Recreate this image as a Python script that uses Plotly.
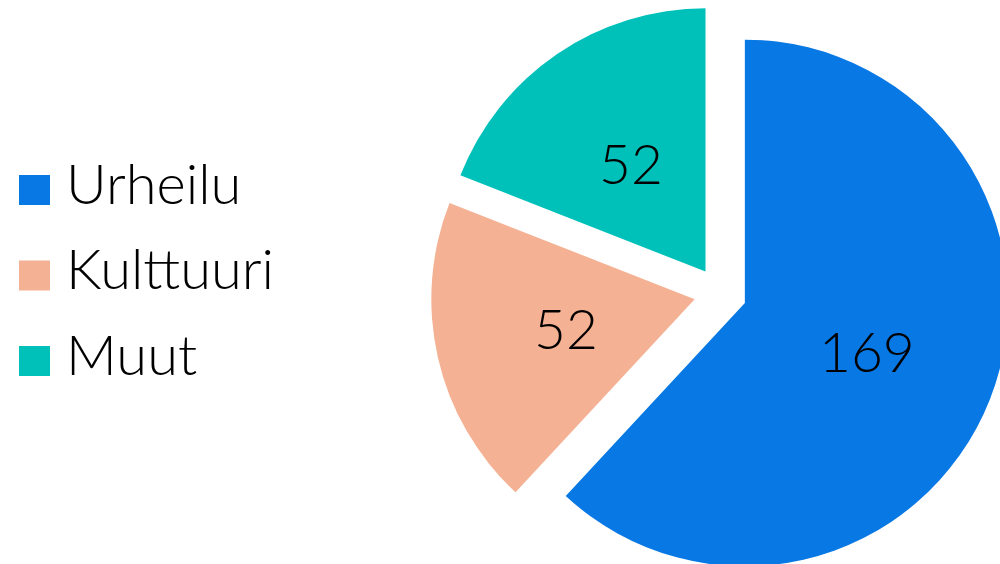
import math
import plotly.graph_objects as go

categories = ["Urheilu", "Kulttuuri", "Muut"]
values = [169, 52, 52]
colors = ["#0878E4", "#F5B193", "#00C1BA"]

FONT = "Lato"
W, H = 1010, 583
PULL = 0.1
DOM_X = [0.4264, 1.0]
DOM_Y = [0.0, 0.9937]

fig = go.Figure()
fig.add_trace(go.Pie(
    labels=categories,
    values=values,
    sort=False,
    direction="clockwise",
    rotation=0,
    pull=[PULL] * len(values),
    marker=dict(colors=colors, line=dict(width=0)),
    textinfo="none",
    domain=dict(x=DOM_X, y=DOM_Y),
    showlegend=False,
    hoverinfo="label+value",
))

# Value labels placed at mid-radius along each slice bisector (as in the reference)
rx = W * (DOM_X[1] - DOM_X[0]) / 2
ry = H * (DOM_Y[1] - DOM_Y[0]) / 2
R = min(rx, ry) / (1 + PULL)
cx = W * (DOM_X[0] + DOM_X[1]) / 2
cy = H * (1 - DOM_Y[0]) - ry
total = sum(values)
start = 0.0
for v in values:
    frac = v / total
    mid = (start + frac / 2) * 2 * math.pi
    start += frac
    dist = (PULL + 0.5) * R
    px = cx + dist * math.sin(mid)
    py = cy - dist * math.cos(mid)
    fig.add_annotation(x=px / W, y=1 - py / H, xref="paper", yref="paper",
                       text=str(v), showarrow=False, xanchor="center", yanchor="middle",
                       font=dict(family=FONT, size=55, color="black", weight=300))

# Custom legend with large squares (pixel layout converted to paper coords)
sq_x0, sq_x1, half = 19, 50, 15
text_x = 64
first_y, step = 190, 85.5
for i, (cat, col) in enumerate(zip(categories, colors)):
    py = first_y + i * step
    fig.add_shape(type="rect", xref="paper", yref="paper",
                  x0=sq_x0 / W, x1=sq_x1 / W,
                  y0=1 - (py + half) / H, y1=1 - (py - half) / H,
                  fillcolor=col, line=dict(width=0))
    fig.add_annotation(x=text_x / W, y=1 - (py - 8) / H, xref="paper", yref="paper",
                       text=cat, showarrow=False, xanchor="left", yanchor="middle",
                       font=dict(family=FONT, size=56, color="black", weight=300))

fig.update_layout(
    width=W, height=H,
    margin=dict(l=0, r=0, t=0, b=0),
    paper_bgcolor="white",
    plot_bgcolor="white",
    showlegend=False,
)

fig.write_html("out.html", config={"displayModeBar": False},
               post_script="document.body.style.margin='0';document.body.style.overflow='hidden';")
